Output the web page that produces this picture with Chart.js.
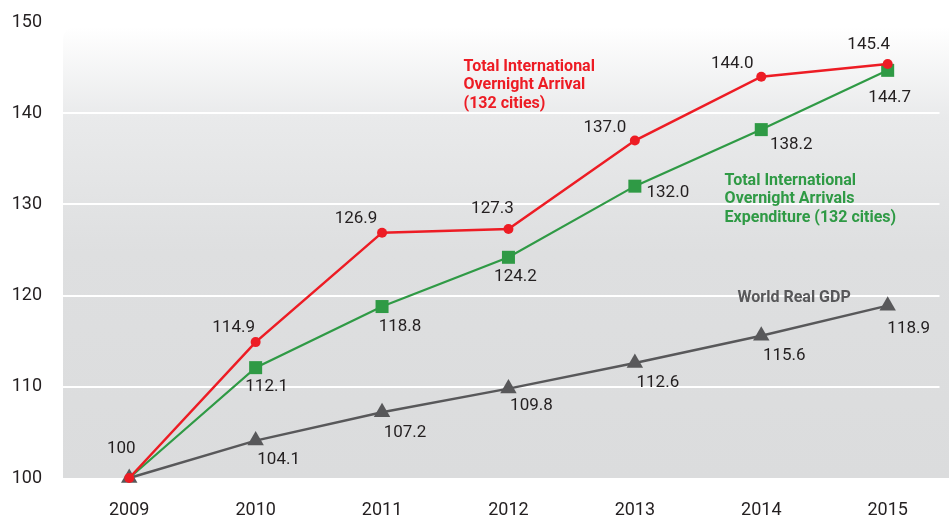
<!DOCTYPE html>
<html>
<head>
<meta charset="utf-8">
<script src="https://cdn.jsdelivr.net/npm/chart.js@4.4.0/dist/chart.umd.min.js"></script>
<style>
  html, body { margin: 0; padding: 0; background: #fff; overflow: hidden; }
  canvas { display: block; }
</style>
</head>
<body>
<canvas id="myChart" width="949" height="519"></canvas>
<script>
// data
var years = [2009, 2010, 2011, 2012, 2013, 2014, 2015];
var arrivals = [100, 114.9, 126.9, 127.3, 137.0, 144.0, 145.4];
var expenditure = [100, 112.1, 118.8, 124.2, 132.0, 138.2, 144.7];
var gdp = [100, 104.1, 107.2, 109.8, 112.6, 115.6, 118.9];
var yTicks = [100, 110, 120, 130, 140, 150];

var seriesNames = [
  ['Total International', 'Overnight Arrival', '(132 cities)'],
  ['Total International', 'Overnight Arrivals', 'Expenditure (132 cities)'],
  ['World Real GDP']
];

var RED = '#ed1c24';
var GREEN = '#2f9a45';
var GREY = '#58585a';
var INK = '#231f20';

// label offsets from each point (pixels)
var labelOffsets = [
  [[-8, -29], [-22, -14], [-26, -14], [-16, -20], [-30, -13], [-29, -13], [-19, -19]],
  [null, [11, 19], [18, 20], [7, 19], [33, 7], [30, 15], [2, 27]],
  [null, [23, 19], [23, 20], [23, 17], [23, 20], [23, 20], [21, 23]]
];

// where the series names sit, in data units
var namePlaces = [
  { x: 2011.645, y: 145.1, align: 'left', color: RED },
  { x: 2013.71, y: 132.6, align: 'left', color: GREEN },
  { x: 2014.26, y: 119.75, align: 'center', color: GREY }
];

var backdrop = {
  id: 'backdrop',
  beforeDraw: function(chart) {
    var ctx = chart.ctx;
    var area = chart.chartArea;
    var top = chart.scales.y.getPixelForValue(149.45);
    var g = ctx.createLinearGradient(0, top, 0, area.bottom);
    g.addColorStop(0, '#ffffff');
    g.addColorStop(0.2, '#e9eaeb');
    g.addColorStop(0.5, '#dedfe0');
    g.addColorStop(1, '#dbdcdd');
    ctx.save();
    ctx.fillStyle = g;
    ctx.beginPath();
    ctx.roundRect(area.left, top, area.right - area.left + 20, area.bottom - top, [12, 0, 0, 0]);
    ctx.fill();
    ctx.restore();
  }
};

var pointLabels = {
  id: 'pointLabels',
  afterDatasetsDraw: function(chart) {
    var ctx = chart.ctx;
    ctx.save();
    ctx.font = '17px Roboto';
    ctx.fillStyle = INK;
    ctx.textAlign = 'center';
    ctx.textBaseline = 'middle';
    chart.data.datasets.forEach(function(ds, i) {
      var meta = chart.getDatasetMeta(i);
      meta.data.forEach(function(pt, j) {
        var off = labelOffsets[i][j];
        if (!off) return;
        var v = ds.data[j];
        var txt = v === 100 ? '100' : v.toFixed(1);
        ctx.fillText(txt, pt.x + off[0], pt.y + off[1]);
      });
    });

    ctx.font = 'bold 16px Roboto';
    ctx.textBaseline = 'middle';
    namePlaces.forEach(function(p, i) {
      var x = chart.scales.x.getPixelForValue(p.x);
      var y = chart.scales.y.getPixelForValue(p.y);
      ctx.fillStyle = p.color;
      ctx.textAlign = p.align;
      seriesNames[i].forEach(function(line, k) {
        ctx.fillText(line, x, y + k * 18.5);
      });
    });
    ctx.restore();
  }
};

var ctx = document.getElementById('myChart').getContext('2d');

new Chart(ctx, {
  type: 'line',
  data: {
    labels: years,
    datasets: [
      {
        label: seriesNames[0].join(' '),
        data: arrivals,
        borderColor: RED,
        backgroundColor: RED,
        borderWidth: 2.5,
        pointStyle: 'circle',
        pointRadius: 5,
        pointBorderWidth: 0,
        tension: 0,
        clip: false,
        order: 0
      },
      {
        label: seriesNames[1].join(' '),
        data: expenditure,
        borderColor: GREEN,
        backgroundColor: GREEN,
        borderWidth: 2.2,
        pointStyle: 'rect',
        pointRadius: [0, 9.2, 9.2, 9.2, 9.2, 9.2, 9.2],
        pointBorderWidth: 0,
        tension: 0,
        clip: false,
        order: 1
      },
      {
        label: seriesNames[2][0],
        data: gdp,
        borderColor: GREY,
        backgroundColor: GREY,
        borderWidth: 2.5,
        pointStyle: 'triangle',
        pointRadius: 9.5,
        pointBorderWidth: 0,
        tension: 0,
        clip: false,
        order: 2
      }
    ]
  },
  options: {
    responsive: false,
    animation: false,
    layout: {
      padding: { top: 22, left: 0, right: 0, bottom: 0 }
    },
    scales: {
      x: {
        type: 'linear',
        min: 2008.476,
        max: 2015.41,
        afterBuildTicks: function(scale) {
          scale.ticks = years.map(function(y) { return { value: y }; });
        },
        afterFit: function(scale) {
          scale.height = 41;
          scale.paddingLeft = 0;
          scale.paddingRight = 0;
        },
        ticks: {
          autoSkip: false,
          maxRotation: 0,
          padding: 22,
          color: INK,
          font: { family: 'Roboto', size: 18 },
          callback: function(v) { return String(v); }
        },
        grid: { display: false, drawTicks: false },
        border: { display: false }
      },
      y: {
        min: 100,
        max: 150,
        afterBuildTicks: function(scale) {
          scale.ticks = yTicks.map(function(v) { return { value: v }; });
        },
        afterFit: function(scale) {
          scale.width = 63;
          scale.paddingTop = 0;
          scale.paddingBottom = 0;
        },
        ticks: {
          padding: 21,
          color: INK,
          font: { family: 'Roboto', size: 18 },
          callback: function(v) { return String(v); }
        },
        grid: {
          drawTicks: false,
          lineWidth: 2,
          color: function(c) {
            return (c.tick && (c.tick.value === 100 || c.tick.value === 150)) ? 'rgba(0,0,0,0)' : '#ffffff';
          }
        },
        border: { display: false }
      }
    },
    plugins: {
      legend: { display: false },
      title: { display: false },
      tooltip: { enabled: false }
    }
  },
  plugins: [backdrop, pointLabels]
});
</script>
</body>
</html>
